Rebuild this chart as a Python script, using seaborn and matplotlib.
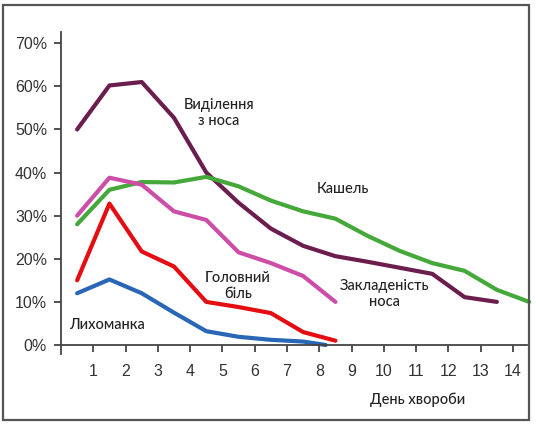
import pandas as pd
import matplotlib.pyplot as plt
import seaborn as sns
from matplotlib.patches import Rectangle

# day of illness (half-day midpoints) and share of patients, %
days_nose = [0.5, 1.5, 2.5, 3.5, 4.5, 5.5, 6.5, 7.5, 8.5, 9.5, 10.5, 11.5, 12.5, 13.5]
runny_nose = [50, 60.2, 61, 52.7, 40, 33, 27, 23, 20.6, 19.3, 17.9, 16.5, 11.1, 10]

days_cough = [0.5, 1.5, 2.5, 3.5, 4.5, 5.5, 6.5, 7.5, 8.5, 9.5, 10.5, 11.5, 12.5, 13.5, 14.5]
cough = [28, 36, 37.8, 37.7, 39, 36.8, 33.5, 31, 29.3, 25.3, 21.8, 19, 17.2, 12.8, 10]

days_congestion = [0.5, 1.5, 2.5, 3.5, 4.5, 5.5, 6.5, 7.5, 8.5]
congestion = [30, 38.8, 37.2, 31, 29, 21.5, 19, 16, 10]

days_headache = [0.5, 1.5, 2.5, 3.5, 4.5, 5.5, 6.5, 7.5, 8.5]
headache = [15, 32.8, 21.7, 18.2, 10, 8.8, 7.4, 3, 1]

days_fever = [0.5, 1.5, 2.5, 3.5, 4.5, 5.5, 6.5, 7.5, 8.2]
fever = [12, 15.2, 12, 7.5, 3.2, 1.9, 1.2, 0.8, 0]

names = ['Виділення з носа', 'Кашель', 'Закладеність носа', 'Головний біль', 'Лихоманка']
colors = ['#6b1e4e', '#45a83a', '#cc4ea6', '#e30d12', '#2a66b6']

frames = []
for name, d, v in zip(names,
                      [days_nose, days_cough, days_congestion, days_headache, days_fever],
                      [runny_nose, cough, congestion, headache, fever]):
    frames.append(pd.DataFrame({'day': d, 'pct': v, 'symptom': name}))
df = pd.concat(frames, ignore_index=True)

sns.set_style('white')
plt.rcParams['font.family'] = ['Liberation Sans', 'DejaVu Sans']

fig = plt.figure(figsize=(5.36, 4.24), dpi=100)
ax = fig.add_axes([0.1138, 0.166, 0.983 - 0.1138, 0.9245 - 0.166])

sns.lineplot(data=df, x='day', y='pct', hue='symptom', hue_order=names,
             palette=colors, sort=False, linewidth=3, legend=False, ax=ax)
for line in ax.lines:
    line.set_clip_on(False)
    line.set_solid_joinstyle('round')
    line.set_solid_capstyle('round')

ax.set_xlim(0, 14.43)
ax.set_ylim(-2, 72.6)
ax.spines['bottom'].set_position(('data', 0))
ax.spines['top'].set_visible(False)
ax.spines['right'].set_visible(False)
for s in ['left', 'bottom']:
    ax.spines[s].set_color('#444444')
    ax.spines[s].set_linewidth(1.3)

ax.set_xticks(range(1, 15))
ax.set_yticks(range(0, 71, 10))
ax.set_yticklabels([f'{t}%' for t in range(0, 71, 10)])
ax.tick_params(axis='x', direction='out', length=5, width=1.3, pad=9,
               colors='#444444', labelcolor='#333333', labelsize=11.5, bottom=True)
ax.tick_params(axis='y', direction='out', length=5, width=1.3, pad=5,
               colors='#444444', labelcolor='#333333', labelsize=11.5, left=True)
ax.set_xlabel('')
ax.set_ylabel('')

lab = dict(fontsize=10.5, color='#222222', ha='center', va='center',
           family=['Lato', 'DejaVu Sans'], weight='medium', linespacing=1.15)
ax.text(4.89, 53.8, 'Виділення\nз носа', **lab)
ax.text(8.73, 36.2, 'Кашель', **lab)
ax.text(10.03, 11.8, 'Закладеність\nноса', **lab)
ax.text(5.48, 13.7, 'Головний\nбіль', **lab)
ax.text(1.42, 4.6, 'Лихоманка', **lab)
ax.text(11.05, -12.8, 'День хвороби', clip_on=False, **lab)

fig.patches.append(Rectangle((3 / 536, 4 / 424), 526 / 536, 415 / 424,
                             transform=fig.transFigure, fill=False,
                             edgecolor='#555555', linewidth=1.6))

fig.savefig('out.png', dpi=100)
